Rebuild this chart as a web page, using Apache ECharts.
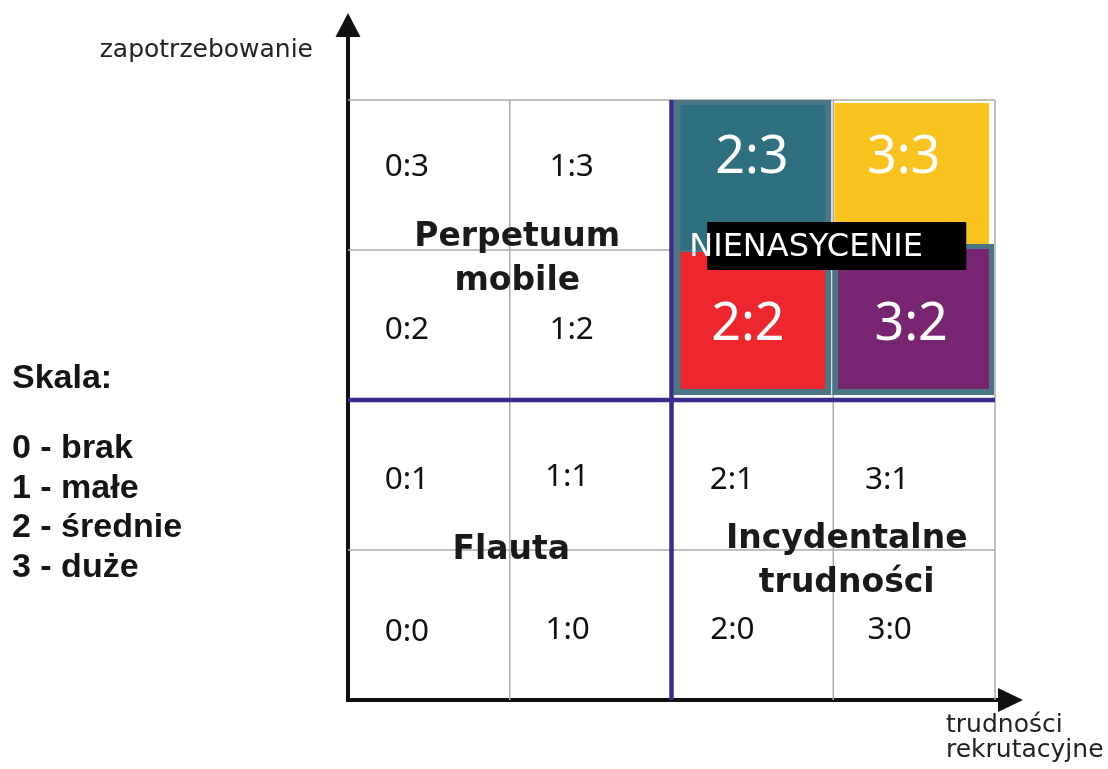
<!DOCTYPE html>
<html><head><meta charset="utf-8">
<script src="https://cdn.jsdelivr.net/npm/echarts@6/dist/echarts.min.js"></script>
<style>html,body{margin:0;padding:0;background:#fff}#chart{width:1108px;height:769px}</style>
</head><body><div id="chart"></div>
<script>
// ---- data ----
const xLevels = [0, 1, 2, 3];            // trudności rekrutacyjne
const yLevels = [3, 2, 1, 0];            // zapotrzebowanie (top row first)
const gridMax = 4;
const gridLinesX = [1, 2, 3, 4];
const gridLinesY = [1, 2, 3, 4];
const dividerX = [2];
const dividerY = [2];
const regionNames = ['Perpetuum\nmobile', 'Flauta', 'Incydentalne\ntrudności'];
const regionAnchors = [[1, 3], [1, 1], [3, 1]];
const badgeName = 'NIENASYCENIE';
const badgeAnchor = [3, 3];
const scaleTitle = 'Skala:';
const scaleItems = ['0 - brak', '1 - małe', '2 - średnie', '3 - duże'];
const xAxisName = 'trudności\nrekrutacyjne';
const yAxisName = 'zapotrzebowanie';

// ---- styles ----
const frameColor = '#4b7686';
const cellStyle = {              // insets: [top, right, bottom, left]
  '2:3': { color: '#2e6f80', frame: [0, 2, 0, 2], fill: [5, 8, -2, 9] },
  '3:3': { color: '#f9c41f', frame: null, fill: [3, 6, 6, 1] },
  '2:2': { color: '#ee262d', frame: [0, 2, 5, 2], fill: [2, 8, 11, 9] },
  '3:2': { color: '#772570', frame: [-6, 1, 5, -1], fill: [-1, 6, 11, 5] }
};
const labelNudge = {
  '0:3': [-22, -8], '1:3': [-19, -8], '0:2': [-22, 5.5], '1:2': [-19, 5.5],
  '0:1': [-22, 5], '1:1': [-23.5, 2.5], '0:0': [-22, 7.5], '1:0': [-23, 5],
  '2:1': [-20.5, 5], '3:1': [-27, 5], '2:0': [-20, 5], '3:0': [-24.5, 5],
  '2:3': [-0.5, -16.5], '3:3': [-10.5, -16.5], '2:2': [-4.5, 0], '3:2': [-3, 0]
};
const regionNudge = [[7.5, 9], [1.5, 0.5], [13.5, 11.5]];

const cells = [];
yLevels.forEach(y => xLevels.forEach(x => cells.push([x, y])));
const lineData = gridLinesX.map(v => [0, v]).concat(gridLinesY.map(v => [1, v]));
const dividerData = dividerX.map(v => [0, v]).concat(dividerY.map(v => [1, v]));

const unitX = 161.75, unitY = 150;
const gridW = 662.5, gridH = 675;

function inset(p0, p1, s) {
  return { x: p0[0] + s[3], y: p0[1] + s[0], width: (p1[0] - s[1]) - (p0[0] + s[3]), height: (p1[1] - s[2]) - (p0[1] + s[0]) };
}
function lineRender(color, width) {
  return function (params, api) {
    const t = api.value(0), v = api.value(1);
    const a = t === 0 ? api.coord([v, 0]) : api.coord([0, v]);
    const b = t === 0 ? api.coord([v, gridMax]) : api.coord([gridMax, v]);
    return { type: 'line', shape: { x1: a[0], y1: a[1], x2: b[0], y2: b[1] }, style: { stroke: color, lineWidth: width } };
  };
}

const chart = echarts.init(document.getElementById('chart'));
chart.setOption({
  animation: false,
  backgroundColor: '#ffffff',
  title: {
    left: 12, top: 359, padding: 0, itemGap: 30,
    text: scaleTitle,
    textStyle: { fontFamily: 'Liberation Sans', fontWeight: 'bold', fontSize: 34, lineHeight: 40, color: '#151515' },
    subtext: scaleItems.join('\n'),
    subtextStyle: { fontFamily: 'Liberation Sans', fontWeight: 'bold', fontSize: 34, lineHeight: 39.5, color: '#151515' }
  },
  grid: { left: 348, top: 25, width: gridW, height: gridH },
  xAxis: {
    type: 'value', min: 0, max: gridW / unitX, interval: 1,
    splitLine: { show: false }, axisTick: { show: false }, axisLabel: { show: false },
    axisLine: { show: true, onZero: false, symbol: ['none', 'triangle'], symbolSize: [24, 25], lineStyle: { color: '#111', width: 4, cap: 'square' } },
    name: xAxisName, nameLocation: 'end', nameGap: -64.5,
    nameTextStyle: { fontFamily: 'DejaVu Sans', fontSize: 25, lineHeight: 25, color: '#222', align: 'left', verticalAlign: 'top', padding: [13, 0, 0, 0] }
  },
  yAxis: {
    type: 'value', min: 0, max: gridH / unitY, interval: 1,
    splitLine: { show: false }, axisTick: { show: false }, axisLabel: { show: false },
    axisLine: { show: true, onZero: false, symbol: ['none', 'triangle'], symbolSize: [25, 24], lineStyle: { color: '#111', width: 4, cap: 'square' } },
    name: yAxisName, nameLocation: 'end', nameGap: -25,
    nameTextStyle: { fontFamily: 'DejaVu Sans', fontSize: 25, color: '#222', align: 'right', verticalAlign: 'middle', padding: [0, 35, 0, 0] }
  },
  series: [
    {
      type: 'custom', name: 'grid', coordinateSystem: 'cartesian2d', silent: true, z: 1,
      data: lineData, renderItem: lineRender('#ababab', 1.5)
    },
    {
      type: 'custom', name: 'cells', coordinateSystem: 'cartesian2d', silent: true, z: 2,
      data: cells,
      renderItem: function (params, api) {
        const x = api.value(0), y = api.value(1);
        const p0 = api.coord([x, y + 1]);
        const p1 = api.coord([x + 1, y]);
        const key = x + ':' + y;
        const st = cellStyle[key];
        const children = [];
        if (st) {
          if (st.frame) children.push({ type: 'rect', shape: inset(p0, p1, st.frame), style: { fill: frameColor } });
          children.push({ type: 'rect', shape: inset(p0, p1, st.fill), style: { fill: st.color } });
        }
        const n = labelNudge[key] || [0, 0];
        children.push({
          type: 'text', x: (p0[0] + p1[0]) / 2 + n[0], y: (p0[1] + p1[1]) / 2 + n[1],
          style: { text: key, fill: st ? '#ffffff' : '#111111', fontFamily: 'Noto Sans', fontSize: st ? 52 : 31.5, align: 'center', verticalAlign: 'middle' }
        });
        return { type: 'group', children: children };
      }
    },
    {
      type: 'custom', name: 'dividers', coordinateSystem: 'cartesian2d', silent: true, z: 3,
      data: dividerData, renderItem: lineRender('#3a2c8d', 4.5)
    },
    {
      type: 'custom', name: 'regions', coordinateSystem: 'cartesian2d', silent: true, z: 4,
      data: regionAnchors,
      renderItem: function (params, api) {
        const i = params.dataIndex;
        const p = api.coord([api.value(0), api.value(1)]);
        const n = regionNudge[i];
        return {
          type: 'text', x: p[0] + n[0], y: p[1] + n[1],
          style: { text: regionNames[i], fill: '#1a1a1a', fontFamily: 'DejaVu Sans', fontWeight: 'bold', fontSize: 33, lineHeight: 44, align: 'center', verticalAlign: 'middle' }
        };
      }
    },
    {
      type: 'custom', name: 'badge', coordinateSystem: 'cartesian2d', silent: true, z: 5,
      data: [badgeAnchor],
      renderItem: function (params, api) {
        const p = api.coord([api.value(0), api.value(1)]);
        return {
          type: 'group', children: [
            { type: 'rect', shape: { x: p[0] - 126, y: p[1] - 28, width: 259, height: 48 }, style: { fill: '#000000' } },
            { type: 'text', x: p[0] - 144, y: p[1] - 2, style: { text: badgeName, fill: '#ffffff', fontFamily: 'DejaVu Sans', fontSize: 32, align: 'left', verticalAlign: 'middle' } }
          ]
        };
      }
    }
  ]
});
</script></body></html>
